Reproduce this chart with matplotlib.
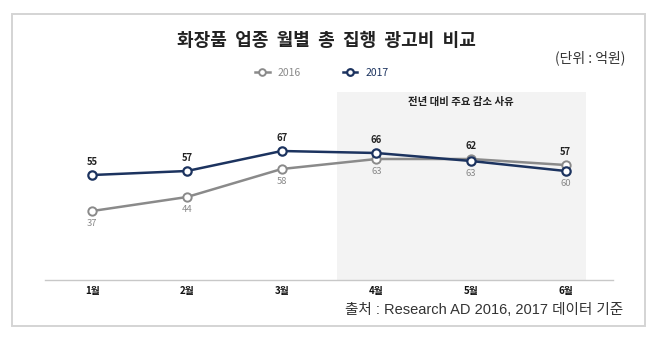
import matplotlib.pyplot as plt
from matplotlib.patches import Rectangle

plt.rcParams['font.family'] = ['Noto Sans CJK KR', 'DejaVu Sans']

months = ['1월', '2월', '3월', '4월', '5월', '6월']
spend_2016 = [37, 44, 58, 63, 63, 60]
spend_2017 = [55, 57, 67, 66, 62, 57]

NAVY = '#1c335f'
GRAY = '#8a8a8a'

W, H = 652, 339
fig = plt.figure(figsize=(W / 100, H / 100), dpi=100)

# outer frame
fig.patches.append(Rectangle((12 / W, 1 - 326 / H), 633 / W, 312 / H,
                             transform=fig.transFigure, fill=False,
                             edgecolor='#d4d4d4', linewidth=1.4))

ax = fig.add_axes([45 / W, 1 - 280 / H, 568 / W, 188 / H])
x = list(range(len(months)))

# shaded period
ax.axvspan(2.58, 5.21, color='#f3f3f3', zorder=0, lw=0)
ax.text(3.895, 91.5, '전년 대비 주요 감소 사유', ha='center', va='center',
        fontsize=7.5, fontweight='bold', color='#222222')

l16, = ax.plot(x, spend_2016, color=GRAY, lw=1.8, marker='o', ms=6,
               mfc='white', mec=GRAY, mew=1.4, label='2016', zorder=3)
l17, = ax.plot(x, spend_2017, color=NAVY, lw=1.8, marker='o', ms=6,
               mfc='white', mec=NAVY, mew=1.6, label='2017', zorder=4)

# 2017 labels go above the higher point, 2016 labels below the lower one
for xi, a, b in zip(x, spend_2016, spend_2017):
    ax.annotate(str(b), (xi, max(a, b)), xytext=(0, 6),
                textcoords='offset points', ha='center', va='bottom',
                fontsize=6.8, fontweight='bold', color='#222222')
    ax.annotate(str(a), (xi, min(a, b)), xytext=(0, -6),
                textcoords='offset points', ha='center', va='top',
                fontsize=6.8, color='#8a8a8a')

ax.set_xlim(-0.5, 5.5)
ax.set_ylim(2.5, 96.5)
ax.set_yticks([])
ax.set_xticks(x)
ax.set_xticklabels(months, fontsize=7, fontweight='bold', color='#111111')
ax.tick_params(axis='x', length=0, pad=4)
for s in ['top', 'left', 'right']:
    ax.spines[s].set_visible(False)
ax.spines['bottom'].set_color('#c8c8c8')
ax.spines['bottom'].set_linewidth(1.0)
ax.patch.set_alpha(0)

leg = fig.legend(handles=[l16, l17], loc='center',
                 bbox_to_anchor=(322 / W, 1 - 73 / H), ncol=2, frameon=False,
                 handlelength=1.4, columnspacing=4.0, fontsize=7.5,
                 markerscale=0.8)
leg.get_texts()[0].set_color('#8a8a8a')
leg.get_texts()[1].set_color('#1c335f')

fig.text(326 / W, 1 - 40 / H, '화장품  업종  월별  총  집행  광고비  비교',
         ha='center', va='center', fontsize=13, fontweight='bold',
         color='#222222')
fig.text(625 / W, 1 - 58 / H, '(단위 : 억원)', ha='right', va='center',
         fontsize=10, color='#333333')
fig.text(623 / W, 1 - 310 / H, '출처 : Research AD 2016, 2017 데이터 기준',
         ha='right', va='center', fontsize=10.5, color='#333333',
         family=['Liberation Sans', 'Noto Sans CJK KR'])

fig.savefig('out.png', dpi=100)
